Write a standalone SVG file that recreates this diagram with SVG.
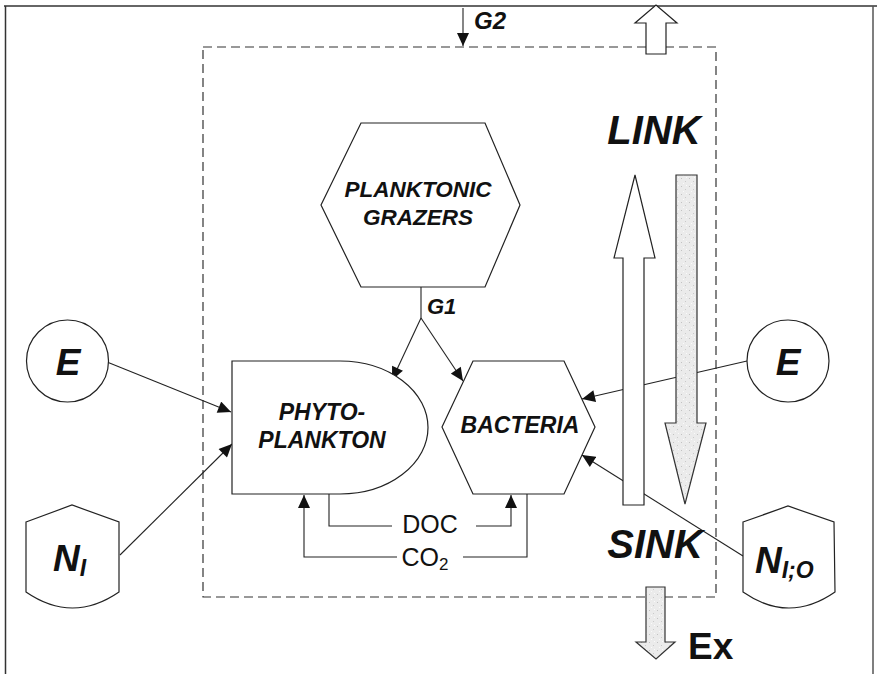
<svg xmlns="http://www.w3.org/2000/svg" width="877" height="674" viewBox="0 0 877 674">
<style>
.ln{fill:none;stroke:#222;stroke-width:1.1}
.sh{fill:#fff;stroke:#222;stroke-width:1.2}
.t{font-family:"Liberation Sans",Arial,sans-serif;font-weight:bold;font-style:italic;fill:#111}
.r{font-family:"Liberation Sans",Arial,sans-serif;fill:#111}
.big{fill:#fff;stroke:#222;stroke-width:1.2}
.gray{fill:url(#speck);stroke:#333;stroke-width:1.2}
</style>
<defs>
<marker id="ah" viewBox="0 0 13 12" refX="13" refY="6" markerWidth="14" markerHeight="12" markerUnits="userSpaceOnUse" orient="auto">
<path d="M0,0 L13,6 L0,12 Z" fill="#111"/>
</marker>
<pattern id="speck" width="8" height="8" patternUnits="userSpaceOnUse">
<rect width="8" height="8" fill="#ebebeb"/>
<rect x="1" y="2" width="1" height="1" fill="#c2c2c2"/>
<rect x="5" y="5" width="1" height="1" fill="#cacaca"/>
<rect x="3" y="7" width="1" height="1" fill="#fafafa"/>
<rect x="6" y="1" width="1" height="1" fill="#fafafa"/>
</pattern>
</defs>

<g id="frame">
<line x1="4" y1="6" x2="877" y2="6" stroke="#333" stroke-width="1.5"/>
<line x1="5.5" y1="6" x2="5.5" y2="674" stroke="#333" stroke-width="1.5"/>
<line x1="873" y1="6" x2="873" y2="674" stroke="#555" stroke-width="1.5"/>
</g>

<g id="system-boundary">
<rect x="203" y="47" width="513" height="550" fill="none" stroke="#333" stroke-width="1.2" stroke-dasharray="9 5"/>
</g>

<g id="connectors">
<line class="ln" x1="463" y1="8" x2="463" y2="46" marker-end="url(#ah)"/>
<polyline class="ln" points="421,287 421,318"/>
<line class="ln" x1="421" y1="318" x2="392" y2="380" marker-end="url(#ah)"/>
<line class="ln" x1="421" y1="318" x2="463" y2="381" marker-end="url(#ah)"/>
<line class="ln" x1="107" y1="362" x2="231" y2="412" marker-end="url(#ah)"/>
<line class="ln" x1="120" y1="555" x2="232" y2="444" marker-end="url(#ah)"/>
<line class="ln" x1="747" y1="361" x2="582" y2="399" marker-end="url(#ah)"/>
<line class="ln" x1="743" y1="556" x2="582" y2="455" marker-end="url(#ah)"/>
<polyline class="ln" points="329,494 329,526 392,526"/>
<polyline class="ln" points="476,526 511,526 511,495" marker-end="url(#ah)"/>
<polyline class="ln" points="527,494 527,557 463,557"/>
<polyline class="ln" points="397,557 304,557 304,495" marker-end="url(#ah)"/>
<text class="r" x="430" y="533" font-size="25" text-anchor="middle">DOC</text>
<text class="r" x="425" y="566" font-size="25" text-anchor="middle">CO<tspan font-size="17" dy="4">2</tspan></text>
<text class="t" x="474" y="29" font-size="24">G2</text>
<text class="t" x="427" y="314" font-size="22">G1</text>
</g>

<g id="flux-arrows">
<path class="big" d="M646,54 L646,23 L635,23 L656,5 L677,23 L666,23 L666,54 Z"/>
<path class="big" d="M623,505 L623,258 L614,258 L635,175 L655,258 L644,258 L644,505 Z"/>
<path class="gray" d="M676,175 L697,175 L697,423 L706,423 L685,504 L665,423 L676,423 Z"/>
<path class="gray" d="M646,587 L665,587 L665,642 L675,642 L656,659 L636,642 L646,642 Z"/>
<text class="t" x="654" y="144" font-size="40" text-anchor="middle">LINK</text>
<text class="t" x="655" y="558" font-size="40" text-anchor="middle">SINK</text>
<text class="r" x="688" y="659" font-size="37" font-weight="bold">Ex</text>
</g>

<g id="grazers">
<polygon class="sh" points="361,123 485,123 520,205 485,287 361,287 321,205"/>
<text class="t" x="418" y="197" font-size="22.5" text-anchor="middle">PLANKTONIC</text>
<text class="t" x="418" y="225" font-size="22.5" text-anchor="middle">GRAZERS</text>
</g>

<g id="phytoplankton">
<path class="sh" d="M232,361 L340,361 A88,66.5 0 0 1 340,494 L232,494 Z"/>
<text class="t" x="322" y="420" font-size="23" text-anchor="middle">PHYTO-</text>
<text class="t" x="322" y="448" font-size="23" text-anchor="middle">PLANKTON</text>
</g>

<g id="bacteria">
<polygon class="sh" points="473,361 564,361 595,427 564,494 473,494 442,427"/>
<text class="t" x="520" y="433" font-size="23" text-anchor="middle">BACTERIA</text>
</g>

<g id="E-left">
<circle class="sh" cx="67.5" cy="361" r="41"/>
<text class="t" x="68" y="375" font-size="37" text-anchor="middle">E</text>
</g>

<g id="E-right">
<circle class="sh" cx="788" cy="361" r="41"/>
<text class="t" x="788" y="375" font-size="37" text-anchor="middle">E</text>
</g>

<g id="N-I">
<path class="sh" d="M26,522 L72,505 L119,522 L119,592 Q72.5,624 26,592 Z"/>
<text class="t" x="53" y="571" font-size="37">N<tspan font-size="23" dy="5">I</tspan></text>
</g>

<g id="N-IO">
<path class="sh" d="M743,522 L788,506 L834,522 L835,592 Q789,624 743,592 Z"/>
<text class="t" x="755" y="573" font-size="37">N<tspan font-size="23" dy="5">I;O</tspan></text>
</g>
</svg>
